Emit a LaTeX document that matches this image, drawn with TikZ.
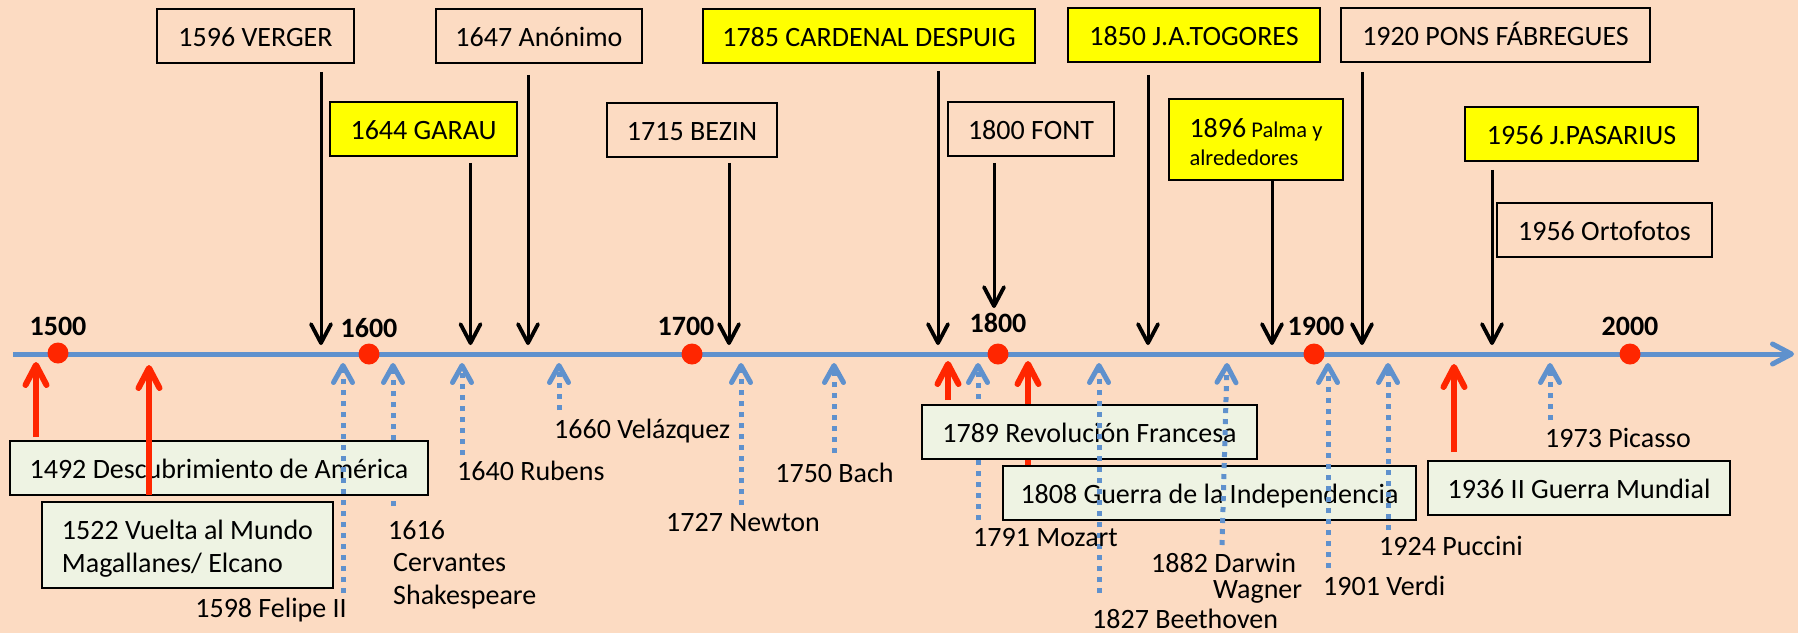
\documentclass[tikz,border=0pt]{standalone}
\usepackage{fontspec}
\setmainfont{Carlito}
\usetikzlibrary{arrows.meta}
\definecolor{bgpeach}{RGB}{252,219,194}
\definecolor{tlblue}{RGB}{95,145,205}
\definecolor{evred}{RGB}{255,38,0}
\definecolor{evgreen}{RGB}{238,243,227}
\definecolor{boxyellow}{RGB}{255,255,0}
\pgfdeclarelayer{back}
\pgfdeclarelayer{mid}
\pgfsetlayers{back,mid,main}
\tikzset{
  lbl/.style={font=\fontsize{28}{33}\selectfont, inner sep=0pt, text=black},
  yearlbl/.style={font=\fontsize{28}{33}\selectfont\bfseries, inner sep=0pt, text=black},
  plainbox/.style={draw=black, line width=1.6pt, inner sep=0pt,
    font=\fontsize{28}{33}\selectfont, text height=21pt, text depth=0pt},
  ybox/.style={plainbox, fill=boxyellow},
  gbox/.style={plainbox, fill=evgreen, line width=2pt},
  yeardot/.style={circle, fill=evred, minimum size=21pt, inner sep=0pt},
  timeline/.style={tlblue, line width=5pt, -{Straight Barb[length=19pt,width=20pt,round]}},
  blk/.style={black, line width=3pt, -{Straight Barb[length=19pt,width=20pt,line width=3.8pt,round]}},
  redarr/.style={evred, line width=6pt, -{Straight Barb[length=20pt,width=21pt,round]}},
  bluearr/.style={tlblue, line width=5pt, dash pattern=on 5pt off 6pt,
    -{Straight Barb[length=17pt,width=19pt,line width=5pt,round]}},
}
\begin{document}
\begin{tikzpicture}[x=1pt,y=-1pt]
\useasboundingbox (0,0) rectangle (1798,633);
\begin{pgfonlayer}{back}
\fill[bgpeach] (0,0) rectangle (1798,633);
\end{pgfonlayer}

% ---------- timeline ----------
\coordinate (tlA) at (13,354);
\coordinate (tlB) at (1794,354);
\draw[timeline] (tlA) -- (tlB);

\node[yeardot] (d1500) at (58,353) {};
\node[yeardot] (d1600) at (369,354) {};
\node[yeardot] (d1700) at (692,354) {};
\node[yeardot] (d1800) at (998,354) {};
\node[yeardot] (d1900) at (1314,354) {};
\node[yeardot] (d2000) at (1630,354) {};

\node[yearlbl, anchor=base] (l1500) at (58,335) {1500};
\node[yearlbl, anchor=base] (l1600) at (369,337) {1600};
\node[yearlbl, anchor=base] (l1700) at (686,335) {1700};
\node[yearlbl, anchor=base] (l1800) at (998,332) {1800};
\node[yearlbl, anchor=base] (l1900) at (1316,335) {1900};
\node[yearlbl, anchor=base] (l2000) at (1630,335) {2000};

% ---------- top boxes ----------
\node[plainbox, minimum width=197pt, minimum height=54pt] (verger) at (255.5,36) {1596 VERGER};
\node[plainbox, minimum width=206pt, minimum height=54pt] (anonimo) at (539,36) {1647 Anónimo};
\node[ybox, minimum width=187pt, minimum height=54pt] (garau) at (423.5,129) {1644 GARAU};
\node[plainbox, minimum width=170pt, minimum height=54pt] (bezin) at (692,130) {1715 BEZIN};
\node[ybox, minimum width=332pt, minimum height=54pt] (despuig) at (869,36) {1785 CARDENAL DESPUIG};
\node[plainbox, minimum width=166pt, minimum height=54pt] (font) at (1031,129) {1800 FONT};
\node[ybox, minimum width=252pt, minimum height=54pt] (togores) at (1194,35) {1850 J.A.TOGORES};
\node[ybox, minimum width=174pt, minimum height=81pt, align=left,
      font=\fontsize{22.5}{28}\selectfont, text height=51pt] (palma) at (1256,139.5)
      {{\fontsize{28}{28}\selectfont 1896} Palma y\\alrededores};
\node[plainbox, minimum width=309pt, minimum height=54pt] (pons) at (1495.5,35) {1920 PONS FÁBREGUES};
\node[ybox, minimum width=233pt, minimum height=54pt] (pasarius) at (1581.5,134) {1956 J.PASARIUS};
\node[plainbox, minimum width=215pt, minimum height=54pt] (orto) at (1604.5,230) {1956 Ortofotos};

% ---------- black arrows ----------
\coordinate (tVerger) at (321,345);
\coordinate (tGarau) at (470.5,345);
\coordinate (tAnonimo) at (528,345);
\coordinate (tBezin) at (729,345);
\coordinate (tDespuig) at (938,345);
\coordinate (tFont) at (994,308);
\coordinate (tTogores) at (1148,345);
\coordinate (tPalma) at (1272,345);
\coordinate (tPons) at (1362,345);
\coordinate (tPasarius) at (1492,345);
\draw[blk, shorten <=8pt] (verger.south -| tVerger) -- (tVerger);
\draw[blk, shorten <=6pt] (garau.south -| tGarau) -- (tGarau);
\draw[blk, shorten <=11pt] (anonimo.south -| tAnonimo) -- (tAnonimo);
\draw[blk, shorten <=5pt] (bezin.south -| tBezin) -- (tBezin);
\draw[blk, shorten <=7pt] (despuig.south -| tDespuig) -- (tDespuig);
\draw[blk, shorten <=6pt] (font.south -| tFont) -- (tFont);
\draw[blk, shorten <=12pt] (togores.south -| tTogores) -- (tTogores);
\draw[blk] (palma.south -| tPalma) -- (tPalma);
\draw[blk, shorten <=9pt] (pons.south -| tPons) -- (tPons);
\draw[blk, shorten <=8pt] (pasarius.south -| tPasarius) -- (tPasarius);

% ---------- event boxes ----------
\node[gbox, minimum width=418pt, minimum height=54pt] (e1492) at (219,468) {1492 Descubrimiento de América};
\node[gbox, minimum width=291pt, minimum height=86pt, align=left, text height=54pt] (e1522) at (187.5,545)
      {1522 Vuelta al Mundo\\Magallanes/ Elcano};
\node[gbox, minimum width=335pt, minimum height=54pt] (e1789) at (1089.5,432) {1789 Revolución Francesa};
\node[gbox, minimum width=413pt, minimum height=54pt] (e1808) at (1209.5,493) {1808 Guerra de la Independencia};
\node[gbox, minimum width=302pt, minimum height=54pt] (e1936) at (1579,488) {1936 II Guerra Mundial};

% ---------- red arrows ----------
\coordinate (r1492) at (36,362);
\coordinate (r1522) at (149,365);
\coordinate (r1789) at (948,361);
\coordinate (r1808) at (1028,361);
\coordinate (r1936) at (1454,364);
\begin{pgfonlayer}{mid}
\draw[redarr] (e1808.north -| r1808) -- (r1808);
\end{pgfonlayer}
\draw[redarr, shorten <=3pt] (e1492.north -| r1492) -- (r1492);
\draw[redarr, shorten <=6pt] (e1522.north -| r1522) -- (r1522);
\draw[redarr, shorten <=4pt] (e1789.north -| r1789) -- (r1789);
\draw[redarr, shorten <=8pt] (e1936.north -| r1936) -- (r1936);

% ---------- blue dotted arrows ----------
\coordinate (b1598a) at (343,593);   \coordinate (b1598b) at (343,363);
\coordinate (b1616a) at (393,506);   \coordinate (b1616b) at (393,363);
\coordinate (b1640a) at (462,455);   \coordinate (b1640b) at (462,363);
\coordinate (b1660a) at (559,410);   \coordinate (b1660b) at (559,363);
\coordinate (b1727a) at (741,505);   \coordinate (b1727b) at (741,363);
\coordinate (b1750a) at (834,453);   \coordinate (b1750b) at (834,363);
\coordinate (b1791a) at (978,520);   \coordinate (b1791b) at (978,363);
\coordinate (b1827a) at (1099,593);  \coordinate (b1827b) at (1099,363);
\coordinate (b1882a) at (1222,545);  \coordinate (b1882b) at (1227,363);
\coordinate (b1901a) at (1328,568);  \coordinate (b1901b) at (1328,363);
\coordinate (b1924a) at (1388,530);  \coordinate (b1924b) at (1388,363);
\coordinate (b1973a) at (1550,420);  \coordinate (b1973b) at (1550,363);
\begin{pgfonlayer}{mid}
\draw[bluearr] (b1616a) -- (b1616b);
\draw[bluearr] (b1791a) -- (b1791b);
\end{pgfonlayer}
\draw[bluearr] (b1598a) -- (b1598b);
\draw[bluearr] (b1640a) -- (b1640b);
\draw[bluearr] (b1660a) -- (b1660b);
\draw[bluearr] (b1727a) -- (b1727b);
\draw[bluearr] (b1750a) -- (b1750b);
\draw[bluearr] (b1827a) -- (b1827b);
\draw[bluearr] (b1882a) -- (b1882b);
\draw[bluearr] (b1901a) -- (b1901b);
\draw[bluearr] (b1924a) -- (b1924b);
\draw[bluearr] (b1973a) -- (b1973b);

% ---------- labels ----------
\node[lbl, anchor=base east] (n1598) at (347,617) {1598 Felipe II};
\node[lbl, anchor=base west] (n1616) at (388,539) {1616};
\node[lbl, anchor=base west] (n1616b) at (393,571) {Cervantes};
\node[lbl, anchor=base west] (n1616c) at (393,604) {Shakespeare};
\node[lbl, anchor=base west] (n1640) at (457,480) {1640 Rubens};
\node[lbl, anchor=base west] (n1660) at (554,438) {1660 Velázquez};
\node[lbl, anchor=base] (n1727) at (743,531) {1727 Newton};
\node[lbl, anchor=base] (n1750) at (834.5,482) {1750 Bach};
\node[lbl, anchor=base west] (n1791) at (973,546) {1791 Mozart};
\node[lbl, anchor=base west] (n1827) at (1092,628) {1827 Beethoven};
\node[lbl, anchor=base west] (n1882) at (1151,572) {1882 Darwin};
\node[lbl, anchor=base west] (n1882b) at (1213,598) {Wagner};
\node[lbl, anchor=base west] (n1901) at (1323,595) {1901 Verdi};
\node[lbl, anchor=base west] (n1924) at (1379,555) {1924 Puccini};
\node[lbl, anchor=base west] (n1973) at (1545,447) {1973 Picasso};
\end{tikzpicture}
\end{document}
